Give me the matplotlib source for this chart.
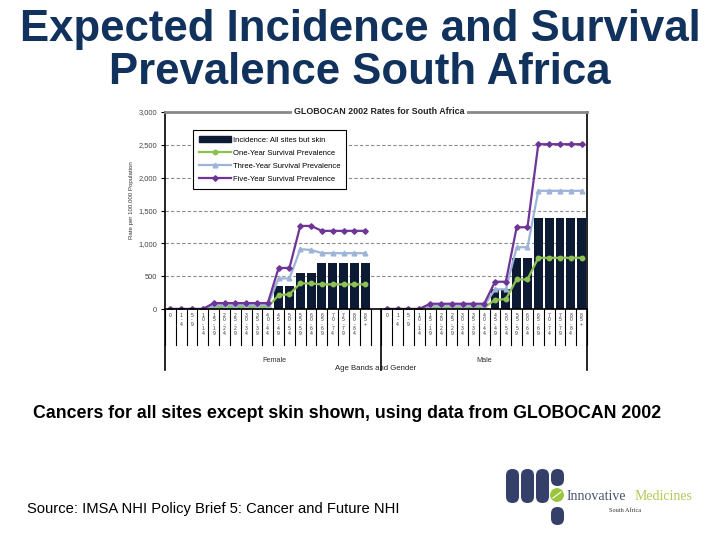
import numpy as np
import matplotlib
matplotlib.use("Agg")
import matplotlib.pyplot as plt
from matplotlib.patches import FancyBboxPatch, Circle
from matplotlib.lines import Line2D
from matplotlib.patches import Patch

# ---------------- data ----------------
age_bands = ["0", "1-4", "5-9", "10-14", "15-19", "20-24", "25-29", "30-34", "35-39",
             "40-44", "45-49", "50-54", "55-59", "60-64", "65-69", "70-74", "75-79",
             "80-84", "85+"]
genders = ["Female", "Male"]

incidence_f = [0, 0, 0, 0, 10, 10, 10, 10, 10, 10, 350, 350, 545, 545, 705, 705, 705, 705, 705]
one_year_f = [0, 0, 0, 0, 30, 30, 30, 30, 30, 30, 210, 225, 390, 390, 375, 375, 375, 375, 375]
three_year_f = [0, 0, 0, 0, 60, 60, 60, 60, 60, 60, 465, 465, 910, 900, 850, 850, 850, 850, 850]
five_year_f = [0, 0, 0, 0, 90, 90, 90, 90, 90, 90, 625, 625, 1265, 1265, 1190, 1190, 1190, 1190, 1190]

incidence_m = [0, 0, 0, 0, 10, 10, 10, 10, 10, 10, 300, 300, 780, 780, 1380, 1380, 1380, 1380, 1380]
one_year_m = [0, 0, 0, 0, 20, 20, 20, 20, 20, 20, 140, 150, 450, 450, 780, 780, 780, 780, 780]
three_year_m = [0, 0, 0, 0, 50, 50, 50, 50, 50, 50, 300, 300, 940, 940, 1800, 1800, 1800, 1800, 1800]
five_year_m = [0, 0, 0, 0, 80, 80, 80, 80, 80, 80, 415, 415, 1245, 1245, 2510, 2510, 2510, 2510, 2510]

yticks = [0, 500, 1000, 1500, 2000, 2500, 3000]

# ---------------- helpers ----------------
W, H = 720, 540
fig = plt.figure(figsize=(7.2, 5.4), dpi=100)
fig.patch.set_facecolor("white")

def fx(px):
    return px / W

def fy(py):
    return 1 - py / H

NAVY = "#0c1b33"
GREEN = "#8dc152"
LBLUE = "#9db4d8"
PURPLE = "#6e3596"

n = len(age_bands)
gap = [np.nan]
x = np.arange(2 * n + 1)
inc = list(incidence_f) + gap + list(incidence_m)
one = list(one_year_f) + gap + list(one_year_m)
three = list(three_year_f) + gap + list(three_year_m)
five = list(five_year_f) + gap + list(five_year_m)

# ---------------- chart axes ----------------
ax_l, ax_r, ax_t, ax_b = 165, 587, 112, 309
ax = fig.add_axes([fx(ax_l), fy(ax_b), fx(ax_r - ax_l), fy(ax_t) - fy(ax_b)])
ax.set_xlim(-0.5, 2 * n + 0.5)
ax.set_ylim(0, 3000)

inc_arr = np.array(inc, dtype=float)
ax.bar(x, np.nan_to_num(inc_arr), width=0.82, color=NAVY, zorder=2)
ax.plot(x, one, color=GREEN, lw=1.6, marker="o", ms=3.2, zorder=3)
ax.plot(x, three, color=LBLUE, lw=1.6, marker="^", ms=3.4, zorder=4)
ax.plot(x, five, color=PURPLE, lw=1.6, marker="D", ms=2.8, zorder=5)

for yv in yticks[1:-1]:
    ax.axhline(yv, color="#8c8c8c", lw=0.8, ls=(0, (3, 2)), zorder=1)

ax.set_yticks(yticks)
ax.set_yticklabels([f"{v:,}" for v in yticks], fontsize=5.4, color="#444444",
                   family="Liberation Sans")
ax.tick_params(axis="y", length=3, width=0.8, color="black", pad=2.5)
ax.set_xticks([])
ax.spines["bottom"].set_visible(False)
ax.spines["top"].set_color("#888888")
ax.spines["top"].set_linewidth(2)
ax.spines["left"].set_color("black")
ax.spines["left"].set_linewidth(1.2)
ax.spines["right"].set_color("black")
ax.spines["right"].set_linewidth(1.2)
ax.axhline(0, color="black", lw=1.2, zorder=6, clip_on=False)

# category axis below (drawn in data-x / axes-y coordinates)
trans = ax.get_xaxis_transform()
ypx = lambda py: (ax_b - py) / (ax_b - ax_t)
for b in np.arange(-0.5, 2 * n + 1, 1.0):
    ax.plot([b, b], [0, ypx(345)], transform=trans, color="black", lw=0.8,
            clip_on=False)
for b in [-0.5, n + 0.5, 2 * n + 0.5]:
    ax.plot([b, b], [0, ypx(370)], transform=trans, color="black", lw=1.2,
            clip_on=False)
for i, lab in enumerate(age_bands):
    for off in (0, n + 1):
        ax.text(i + off, ypx(313), "\n".join(lab), transform=trans, ha="center",
                va="top", fontsize=3.6, linespacing=0.85, color="#333333",
                family="Liberation Sans", clip_on=False)
ax.text((n - 1) / 2 + 0.6, ypx(361), genders[0], transform=trans, ha="center",
        va="center", fontsize=5.2, color="#333333", family="Liberation Sans")
ax.text(n + 1 + (n - 1) / 2, ypx(361), genders[1], transform=trans, ha="center",
        va="center", fontsize=5.2, color="#333333", family="Liberation Sans")
ax.text(n, ypx(368), "Age Bands and Gender", transform=trans, ha="center",
        va="center", fontsize=5.6, color="#222222", family="Liberation Sans")

# chart title over top border
ax.text(n + 0.3, 1.0, "GLOBOCAN 2002 Rates for South Africa", transform=trans,
        ha="center", va="center", fontsize=6.4, fontweight="bold", color="#222222",
        family="Liberation Sans",
        bbox=dict(facecolor="white", edgecolor="none", pad=1.5), zorder=10)

# y label
fig.text(fx(132), fy(200), "Rate per 100,000 Population", rotation=90, ha="center",
         va="center", fontsize=4.4, color="#333333", family="Liberation Sans")

# legend
handles = [
    Patch(facecolor=NAVY, edgecolor=NAVY, label="Incidence: All sites but skin"),
    Line2D([], [], color=GREEN, lw=1.6, marker="o", ms=3.2,
           label="One-Year Survival Prevalence"),
    Line2D([], [], color=LBLUE, lw=1.6, marker="^", ms=3.4,
           label="Three-Year Survival Prevalence"),
    Line2D([], [], color=PURPLE, lw=1.6, marker="D", ms=2.8,
           label="Five-Year Survival Prevalence"),
]
leg = ax.legend(handles=handles, loc="upper left",
                bbox_to_anchor=((193 - ax_l) / (ax_r - ax_l), (ax_b - 130) / (ax_b - ax_t)),
                prop={"family": "Liberation Sans", "size": 5.5},
                frameon=True, fancybox=False, edgecolor="black", framealpha=1,
                handlelength=4.2, handleheight=0.9, labelspacing=0.7,
                borderpad=0.75, handletextpad=0.25, borderaxespad=0)
leg.get_frame().set_linewidth(0.8)

# ---------------- slide text ----------------
fig.text(0.5, fy(9), "Expected Incidence and Survival\nPrevalence South Africa",
         ha="center", va="top", fontsize=31.5, fontweight="bold", color="#12325e",
         linespacing=1.05, family="Liberation Sans")
fig.text(fx(33), fy(413), "Cancers for all sites except skin shown, using data from GLOBOCAN 2002",
         ha="left", va="center", fontsize=12.8, fontweight="bold", color="black",
         family="Liberation Sans")
fig.text(fx(27), fy(509), "Source: IMSA NHI Policy Brief 5: Cancer and Future NHI",
         ha="left", va="center", fontsize=10.6, color="black", family="Liberation Sans")

# ---------------- logo ----------------
lax = fig.add_axes([0, 0, 1, 1])
lax.set_xlim(0, W)
lax.set_ylim(H, 0)
lax.axis("off")
LOGO_NAVY = "#34406a"
def pill(x0, y0, w, h):
    lax.add_patch(FancyBboxPatch((x0, y0), w, h,
                                 boxstyle=f"round,pad=0,rounding_size={w/2}",
                                 facecolor=LOGO_NAVY, edgecolor="none"))
pill(506, 469, 13, 34)
pill(521, 469, 13, 34)
pill(536, 469, 13, 34)
pill(551, 469, 13, 17)
pill(551, 507, 13, 18)
lax.add_patch(Circle((557, 495), 7.5, facecolor="#9cc43c", edgecolor="white", lw=0.8))
lax.plot([553, 561], [498, 492], color="white", lw=0.8)
lax.text(567, 497, "Innovative", ha="left", va="center", fontsize=10,
         family="Liberation Serif", color="#4a5270")
lax.text(692, 497, "Medicines", ha="right", va="center", fontsize=10,
         family="Liberation Serif", color="#b3c85a")
lax.text(609, 510, "South Africa", ha="left", va="center", fontsize=4.5,
         family="Liberation Serif", color="#333333")

fig.savefig("out.png", dpi=100, facecolor="white")
